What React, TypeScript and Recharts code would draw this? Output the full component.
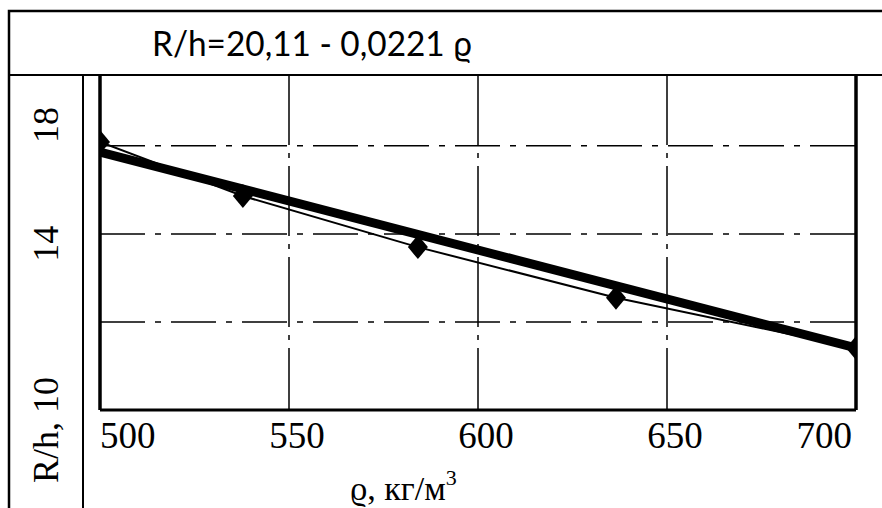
import React from 'react';
import { CartesianGrid, Line, LineChart, ReferenceLine, XAxis, YAxis } from 'recharts';

// density, kg/m3, of the measured samples
const density = [500, 537.8, 584.1, 636.5, 700];
// measured R/h at those densities
const measured = [16.09, 14.86, 13.7, 12.55, 11.41];

// end points of the fitted straight line
const fitDensity = [500, 700];
const fitValues = [15.86, 11.41];

const xTicks = [500, 550, 600, 650, 700];
const yTicks = [10, 12, 14, 16];
const yLabels = ['R/h, 10', '14', '18'];

const title = 'R/h=20,11 - 0,0221 ϱ';
const xTitle = 'ϱ, кг/м';

const measuredData = density.map((x, i) => ({ x, y: measured[i] }));
const fitData = fitDensity.map((x, i) => ({ x, y: fitValues[i] }));

const SERIF = "'Liberation Serif', 'Times New Roman', serif";
// where the rotated y labels sit, as a share of the axis height (as in the scanned original)
const Y_LABEL_POS = [1.06, 0.504, 0.149];

const Diamond = (props: any) => {
    const { cx, cy, index } = props;
    if (cx == null || cy == null) return null;
    return (
        <polygon
            key={`d-${index}`}
            points={`${cx},${cy - 12} ${cx + 10},${cy} ${cx},${cy + 12} ${cx - 10},${cy}`}
            fill="#000"
        />
    );
};

const XTick = (props: any) => {
    const { x, y, payload } = props;
    const v = payload.value;
    const anchor = v === xTicks[0] ? 'start' : v === xTicks[xTicks.length - 1] ? 'end' : 'middle';
    const dx = anchor === 'end' ? -4 : anchor === 'middle' ? 8 : 0;
    return (
        <text x={x + dx} y={y + 38} textAnchor={anchor} style={{ fontFamily: SERIF, fontSize: 37 }} fill="#000">
            {v}
        </text>
    );
};

const YLabels = (props: any) => {
    const { x, y, height } = props.viewBox;
    const bx = x + 1 - 42;
    return (
        <g>
            {yLabels.map((t, i) => {
                const cy = y + height * Y_LABEL_POS[i];
                return (
                    <text
                        key={t}
                        x={bx}
                        y={cy}
                        transform={`rotate(-90 ${bx} ${cy})`}
                        textAnchor="middle"
                        style={{ fontFamily: SERIF, fontSize: 36 }}
                        fill="#000"
                    >
                        {t}
                    </text>
                );
            })}
        </g>
    );
};

const XTitle = (props: any) => {
    const { x, y } = props.viewBox;
    return (
        <text x={x + 250} y={y + 90} style={{ fontFamily: SERIF, fontSize: 34 }} fill="#000">
            {xTitle}
            <tspan fontSize={22} dy={-15}>
                3
            </tspan>
        </text>
    );
};

export default function App() {
    return (
        <div
            style={{
                position: 'absolute',
                left: 0,
                top: 0,
                width: 882,
                height: 508,
                overflow: 'hidden',
                background: '#fff',
            }}
        >
            <LineChart
                width={882}
                height={508}
                margin={{ top: 75, right: 26, bottom: 38, left: 99 }}
                style={{ position: 'absolute', left: 0, top: 0 }}
            >
                <CartesianGrid stroke="#000" strokeWidth={1.5} strokeDasharray="70 8 5 8" horizontal={false} />
                <XAxis
                    type="number"
                    dataKey="x"
                    domain={[500, 700]}
                    ticks={xTicks}
                    allowDataOverflow
                    height={60}
                    tickSize={0}
                    tickMargin={0}
                    tickLine={false}
                    axisLine={{ stroke: '#000', strokeWidth: 3 }}
                    tick={<XTick />}
                    label={{ content: <XTitle /> }}
                />
                <YAxis
                    type="number"
                    domain={[10, 17.61]}
                    ticks={yTicks}
                    allowDataOverflow
                    width={1}
                    tick={false}
                    tickLine={false}
                    axisLine={{ stroke: '#000', strokeWidth: 3.5 }}
                    label={{ content: <YLabels /> }}
                />
                {yTicks.slice(1).map((t) => (
                    <ReferenceLine key={t} y={t} stroke="#000" strokeWidth={1.5} strokeDasharray="45 10 6 10" />
                ))}
                <ReferenceLine x={700} stroke="#000" strokeWidth={3.5} />
                <Line
                    data={measuredData}
                    dataKey="y"
                    type="linear"
                    stroke="#000"
                    strokeWidth={2}
                    dot={<Diamond />}
                    isAnimationActive={false}
                />
                <Line
                    data={fitData}
                    dataKey="y"
                    type="linear"
                    stroke="#000"
                    strokeWidth={9}
                    dot={false}
                    isAnimationActive={false}
                />
            </LineChart>
            {/* frame and title box of the scanned figure */}
            <svg
                width={882}
                height={508}
                style={{ position: 'absolute', left: 0, top: 0, pointerEvents: 'none' }}
            >
                <rect x={9} y={11} width={900} height={600} fill="none" stroke="#000" strokeWidth={2.5} />
                <line x1={9} y1={75} x2={882} y2={75} stroke="#000" strokeWidth={2} />
                <line x1={83} y1={75} x2={83} y2={508} stroke="#000" strokeWidth={2} />
                <text
                    x={152}
                    y={56}
                    fontFamily="Lato, 'Open Sans', sans-serif"
                    fontSize={34}
                    textLength={320}
                    lengthAdjust="spacingAndGlyphs"
                    fill="#000"
                >
                    {title}
                </text>
            </svg>
        </div>
    );
}
